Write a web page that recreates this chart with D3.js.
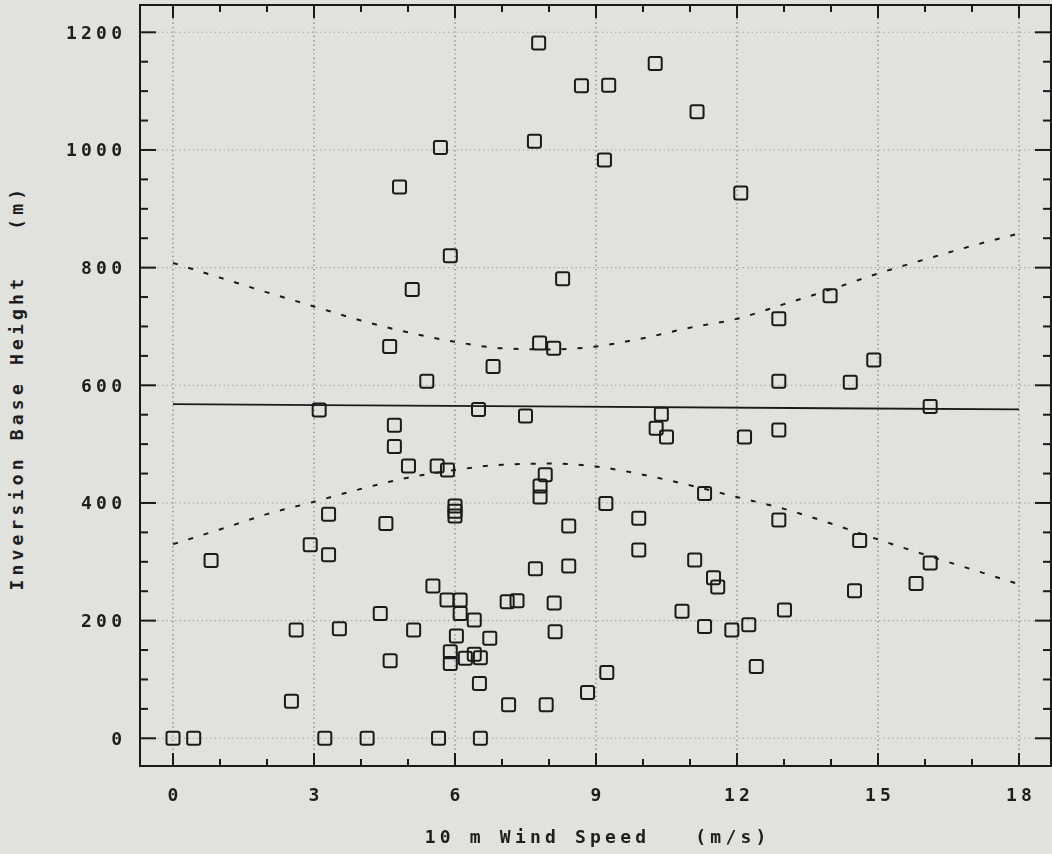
<!DOCTYPE html>
<html>
<head>
<meta charset="utf-8">
<script src="https://cdn.jsdelivr.net/npm/d3@7"></script>
<style>
html,body{margin:0;padding:0;background:#e1e2de;}
svg{display:block;}
text{font-family:"DejaVu Sans Mono",monospace;font-weight:bold;fill:#1e1e1e;}
</style>
</head>
<body>
<svg id="chart" width="1052" height="854"></svg>
<script>
// ---- data ----
const windSpeed = [
  7.78,10.26,8.69,9.27,11.15,7.69,5.69,9.18,4.82,5.90,5.09,8.29,12.08,13.98,
  4.61,5.40,3.11,4.71,4.71,5.01,5.62,5.84,6.81,7.80,8.10,6.50,7.50,10.39,10.28,10.50,
  12.16,12.89,12.89,14.41,14.91,16.11,12.89,7.92,7.81,7.81,11.31,9.21,6.00,6.00,6.00,
  3.31,4.53,2.92,3.31,0.81,5.53,5.83,6.11,6.11,6.41,4.41,6.03,6.74,2.62,3.54,5.12,
  5.90,5.90,6.22,6.41,6.54,6.52,4.62,2.52,
  0.00,0.44,3.23,4.13,5.65,6.54,
  7.71,8.42,7.11,7.32,8.11,8.13,9.23,8.82,7.14,7.94,8.42,9.91,9.91,
  11.10,11.50,11.59,10.83,11.31,11.89,12.25,12.41,
  12.89,14.61,16.11,15.81,14.50,13.01
];
const inversionHeight = [
  1182,1147,1109,1110,1065,1015,1004,983,937,820,763,781,927,752,
  666,607,558,532,496,463,463,456,632,672,663,559,548,551,527,512,
  512,713,607,605,643,564,524,448,429,410,416,399,395,386,378,
  381,365,329,312,302,259,235,235,212,201,212,174,170,184,186,184,
  147,127,136,143,137,93,132,63,
  0,0,0,0,0,0,
  288,293,232,234,230,181,112,78,57,57,361,374,320,
  303,273,257,216,190,184,193,122,
  371,336,298,263,251,218
];
const bandSpeed = [0,1,2,3,4,5,6,7,8,9,10,11,12,13,14,15,16,17,18];
const upperBand = [808,783,758,734,710,690,674,663,661,666,680,698,713,738,763,790,814,837,858];
const lowerBand = [330,355,381,402,424,443,456,465,467,462,448,430,410,390,365,338,312,287,262];
const fitSpeed = [0,18];
const fitHeight = [568,559];
const xTicks = [0,3,6,9,12,15,18];
const yTicks = [0,200,400,600,800,1000,1200];
const xLabel = "10 m Wind Speed   (m/s)";
const yLabel = "Inversion Base Height   (m)";

// ---- layout ----
const frame = {left:140, right:1051, top:5, bottom:766};
const x = d3.scaleLinear().domain([0,18]).range([173,1019]);
const y = d3.scaleLinear().domain([0,1200]).range([738.3,32.3]);
const ink = "#1a1a1a";
const svg = d3.select("#chart");

// grid (dotted)
const grid = svg.append("g").attr("stroke","#3a3a3a").attr("stroke-width",1.1)
  .attr("stroke-dasharray","1.2,3.2").attr("opacity",0.75);
grid.selectAll("line.gx").data(xTicks).enter().append("line")
  .attr("x1",d=>x(d)).attr("x2",d=>x(d)).attr("y1",frame.top).attr("y2",frame.bottom);
grid.selectAll("line.gy").data(yTicks).enter().append("line")
  .attr("y1",d=>y(d)).attr("y2",d=>y(d)).attr("x1",frame.left).attr("x2",frame.right)
  .attr("opacity",0.55);

// frame
svg.append("rect").attr("x",frame.left).attr("y",frame.top)
  .attr("width",frame.right-frame.left).attr("height",frame.bottom-frame.top)
  .attr("fill","none").attr("stroke",ink).attr("stroke-width",2);

// ticks
const tk = svg.append("g").attr("stroke",ink).attr("stroke-width",2);
const xMinor = d3.range(0,19,1);
const yMinor = d3.range(0,1201,50);
xMinor.forEach(v=>{
  const major = v%3===0, L = major?13:7;
  tk.append("line").attr("x1",x(v)).attr("x2",x(v)).attr("y1",frame.bottom).attr("y2",frame.bottom-L);
  tk.append("line").attr("x1",x(v)).attr("x2",x(v)).attr("y1",frame.top).attr("y2",frame.top+L);
});
yMinor.forEach(v=>{
  const major = v%200===0, L = major?16:8;
  tk.append("line").attr("y1",y(v)).attr("y2",y(v)).attr("x1",frame.left).attr("x2",frame.left+L);
  tk.append("line").attr("y1",y(v)).attr("y2",y(v)).attr("x1",frame.right).attr("x2",frame.right-L);
});

// tick labels
const fs = 18, ls = 4.2;
svg.append("g").selectAll("text").data(xTicks).enter().append("text")
  .attr("x",d=>x(d)+ls/2).attr("y",801).attr("text-anchor","middle")
  .attr("font-size",fs).attr("letter-spacing",ls).text(d=>d);
svg.append("g").selectAll("text").data(yTicks).enter().append("text")
  .attr("x",122+ls).attr("y",d=>y(d)+6.5).attr("text-anchor","end")
  .attr("font-size",fs).attr("letter-spacing",ls).text(d=>d);

// axis titles
svg.append("text").attr("x",(frame.left+frame.right)/2+ls/2).attr("y",843)
  .attr("text-anchor","middle").attr("font-size",fs).attr("letter-spacing",ls)
  .style("white-space","pre").text(xLabel);
svg.append("text").attr("transform",`translate(23,${(frame.top+frame.bottom)/2+ls/2}) rotate(-90)`)
  .attr("text-anchor","middle").attr("font-size",fs).attr("letter-spacing",ls)
  .style("white-space","pre").text(yLabel);

// regression line
const line = d3.line().x(d=>x(d[0])).y(d=>y(d[1]));
svg.append("path").datum(fitSpeed.map((s,i)=>[s,fitHeight[i]]))
  .attr("d",line).attr("fill","none").attr("stroke",ink).attr("stroke-width",1.8);

// confidence bands (dashed)
const curve = d3.line().x(d=>x(d[0])).y(d=>y(d[1])).curve(d3.curveMonotoneX);
[upperBand,lowerBand].forEach(b=>{
  svg.append("path").datum(bandSpeed.map((s,i)=>[s,b[i]]))
    .attr("d",curve).attr("fill","none").attr("stroke",ink).attr("stroke-width",2)
    .attr("stroke-dasharray","5,11");
});

// points
const sz = 13;
svg.append("g").selectAll("rect").data(windSpeed.map((s,i)=>[s,inversionHeight[i]]))
  .enter().append("rect")
  .attr("x",d=>x(d[0])-sz/2).attr("y",d=>y(d[1])-sz/2)
  .attr("width",sz).attr("height",sz).attr("rx",2)
  .attr("fill","none").attr("stroke",ink).attr("stroke-width",2);
</script>
</body>
</html>
